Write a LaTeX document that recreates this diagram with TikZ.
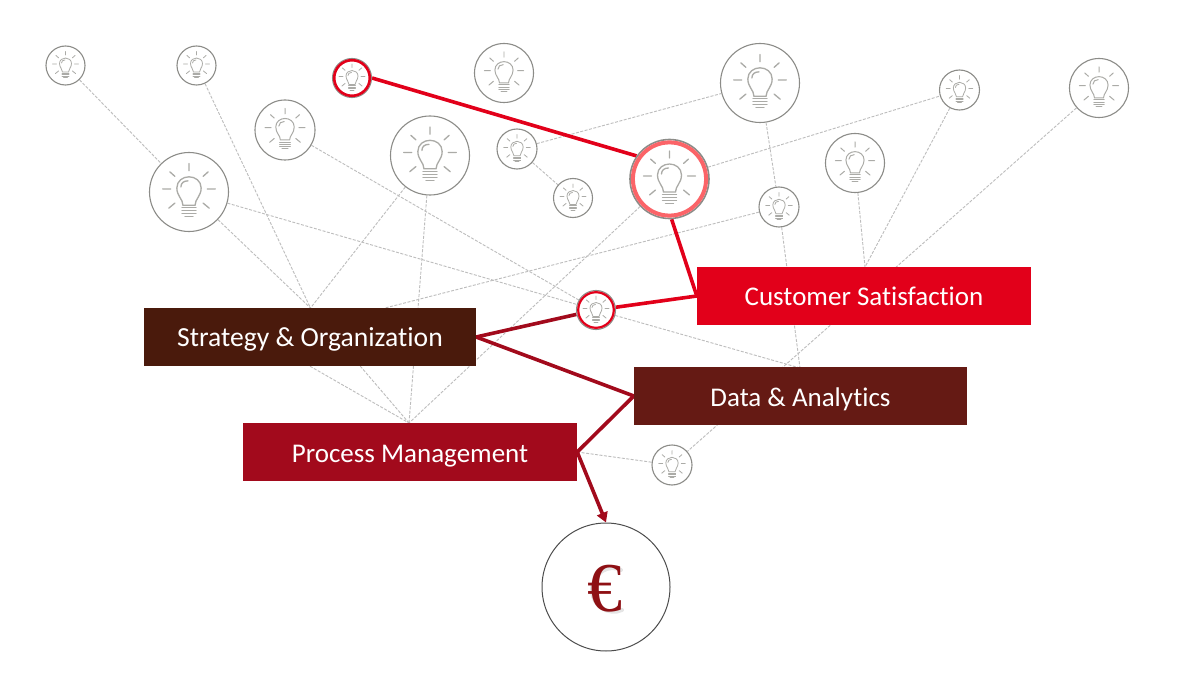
\documentclass[tikz,border=0pt]{standalone}
\usepackage{fontspec}
\setmainfont[Ligatures=NoCommon]{Carlito}
\newfontfamily\eurofont{Liberation Serif}
\usetikzlibrary{arrows.meta,backgrounds}
\definecolor{bulbgrey}{HTML}{ABABA7}
\definecolor{ringgrey}{HTML}{8C8C88}
\definecolor{dashgrey}{HTML}{BDBDBD}
\definecolor{fjred}{HTML}{E2001A}
\definecolor{fjsalmon}{HTML}{FB6468}
\definecolor{fjcrim}{HTML}{A20A1C}
\definecolor{fjmaroon}{HTML}{651A14}
\definecolor{fjbrown}{HTML}{4A1A0C}
\definecolor{eurored}{HTML}{8E1014}
\tikzset{
 x=1pt,y=-1pt,
 ringnode/.style={circle,draw=ringgrey,line width=1.1pt,fill=white,inner sep=0pt,minimum size=#1*2pt},
 dashline/.style={draw=dashgrey,line width=0.9pt,dash pattern=on 3pt off 1.5pt},
 redline/.style={draw=fjred,line width=3.6pt},
 crimline/.style={draw=fjcrim,line width=3.6pt},
 labelbox/.style={rectangle,inner sep=0pt,minimum width=333pt,minimum height=58pt,text=white,text height=20pt,text depth=0pt,font=\fontsize{27}{30}\selectfont},
 bulbline/.style={draw=bulbgrey,line cap=round,line width=#1},
}
\newcommand{\bulbat}[2]{%
 \pgfmathsetmacro{\bsc}{#2/39}%
 \pgfmathsetmacro{\blw}{max(0.8,1.3*#2/39)}%
 \begin{scope}[shift={(#1.center)},scale=\bsc,bulbline=\blw pt]
   \draw (-6,13) .. controls (-6,7) and (-12,4) .. (-12,-4) .. controls (-12,-11) and (-6,-15) .. (0,-15) .. controls (6,-15) and (12,-11) .. (12,-4) .. controls (12,4) and (6,7) .. (6,13) -- cycle;
   \draw (-8,-5) .. controls (-8,-9) and (-5,-11) .. (-1,-11);
   \draw[line width=0.8*\blw pt] (-7,15.5) -- (7,15.5) (-7,18.5) -- (7,18.5) (-7,21.5) -- (7,21.5) (-4,24.5) -- (4,24.5);
   \draw (0,-28) -- (0,-21) (-19,-20) -- (-14,-15.5) (19,-20) -- (14,-15.5) (-26,-3) -- (-18,-3) (26,-3) -- (18,-3) (-20,16) -- (-14,11) (20,16) -- (14,11);
 \end{scope}}
\begin{document}
\begin{tikzpicture}
\useasboundingbox (0,0) rectangle (1200,690);
% rings
\node[ringnode=19.5] (b1) at (65.5,65.5) {};
\node[ringnode=19.5] (b2) at (196.5,65.5) {};
\node[ringnode=29.5] (b4) at (504,73) {};
\node[ringnode=39.5] (b5) at (760,83) {};
\node[ringnode=20] (b6) at (959.5,90) {};
\node[ringnode=29.5] (b7) at (1099,88) {};
\node[ringnode=30] (b8) at (285,130) {};
\node[ringnode=39.5] (b9) at (430,155.5) {};
\node[ringnode=20] (b10) at (517,149) {};
\node[ringnode=19.5] (b11) at (573,198) {};
\node[ringnode=39.5] (b12) at (189,192) {};
\node[ringnode=20] (b14) at (779,207) {};
\node[ringnode=29.5] (b15) at (855,163) {};
\node[ringnode=20] (b17) at (672,465) {};
\node[ringnode=19.5] (b3) at (352,78) {};
\node[ringnode=39.5,line width=1.6pt] (b13) at (669.5,179) {};
\node[ringnode=19.5] (b16) at (596,310) {};
\draw[fjred,line width=2.6pt] (b3.center) circle (17.8);
\draw[fjsalmon,line width=4pt] (b13.center) circle (36.6);
\draw[fjred,line width=2.2pt] (b16.center) circle (17.8);
\foreach \n/\r in {b1/19.5,b2/19.5,b3/19.5,b4/29.5,b5/39.5,b6/20,b7/29.5,b8/30,b9/39.5,b10/20,b11/19.5,b12/39.5,b13/39,b14/20,b15/29.5,b16/19.5,b17/20}{\bulbat{\n}{\r}}
% boxes
\node[labelbox,fill=fjred,minimum width=334pt,text height=18pt] (cs) at (864,296) {Customer Satisfaction};
\node[labelbox,fill=fjbrown,minimum width=332pt,text height=19pt,font=\fontsize{27.6}{30}\selectfont] (so) at (310,337) {Strategy \& Organization};
\node[labelbox,fill=fjmaroon] (da) at (800.5,396) {Data \& Analytics};
\node[labelbox,fill=fjcrim,minimum width=334pt] (pm) at (410,452) {Process Management};
% euro
\node[circle,draw=black!70,line width=1pt,fill=white,inner sep=0pt,minimum size=128pt] (euro) at (606,587) {};
\draw[black,opacity=.10,line width=4pt,line cap=round] (621,570) .. controls (609,564) and (593,572) .. (592,590) .. controls (592,606) and (609,616) .. (622,610);
\node[inner sep=0pt,text=eurored,font=\eurofont\fontsize{70}{70}\selectfont] (eurosign) at (604.5,589) {€};
% free ends
\coordinate (sTop) at (310.5,308);
\coordinate (sTopB) at (385,308);
\coordinate (pTop) at (409,423);
\coordinate (csTop) at (865,267);
\coordinate (daTop) at (800,368);
\begin{scope}[on background layer]
 \fill[white] (0,0) rectangle (1200,690);
 \draw[dashline] (b1) -- (b12);
 \draw[dashline] (b2) -- (sTop);
 \draw[dashline] (b12) -- (sTop);
 \draw[dashline] (b9) -- (sTop);
 \draw[dashline] (b9) -- (pTop);
 \draw[dashline] (sTop) -- (pTop);
 \draw[dashline] (so.south) -- (pTop);
 \draw[dashline] (b13) -- (pTop);
 \draw[dashline] (b8) -- (b16);
 \draw[dashline] (b12) -- (b16);
 \draw[dashline] (b16) -- (daTop);
 \draw[dashline] (b14) -- (sTopB);
 \draw[dashline] (b10) -- (b5);
 \draw[dashline] (b10) -- (b11);
 \draw[dashline] (b5) -- (b14);
 \draw[dashline] (b14) -- (daTop);
 \draw[dashline] (b13) -- (b6);
 \draw[dashline] (b15) -- (csTop);
 \draw[dashline] (b6) -- (csTop);
 \draw[dashline] (b7) -- (b17);
 \draw[dashline] (pm.east) -- (b17);
 \draw[redline] (b3.east) -- (b13.145);
 \draw[redline] (b13.-87) -- (cs.west);
 \draw[redline] (cs.west) -- (b16);
 \draw[crimline] (b16) -- (so.east);
 \draw[crimline] (so.east) -- (da.west);
 \draw[crimline] (da.west) -- (pm.east);
 \draw[crimline,-{Triangle[length=10pt,width=11pt]}] (pm.east) -- (euro.north);
\end{scope}
\end{tikzpicture}
\end{document}
